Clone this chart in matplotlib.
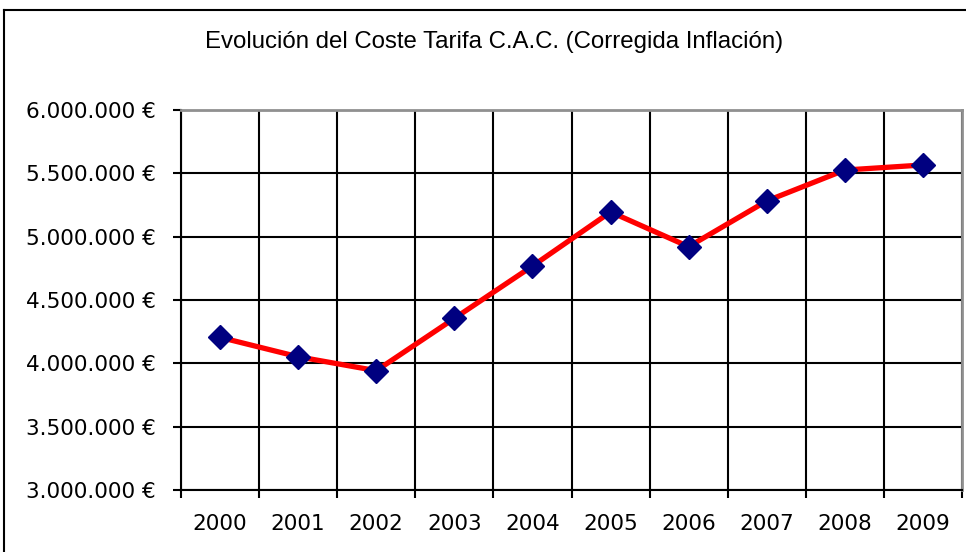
import matplotlib
matplotlib.use("Agg")
import matplotlib.pyplot as plt
from matplotlib.lines import Line2D
from matplotlib.ticker import FixedLocator, FuncFormatter

years = ["2000", "2001", "2002", "2003", "2004", "2005", "2006", "2007", "2008", "2009"]
costs = [4205000, 4052000, 3942000, 4355000, 4768000, 5195000, 4921000, 5282000, 5526000, 5566000]
y_ticks = [3000000, 3500000, 4000000, 4500000, 5000000, 5500000, 6000000]
title = "Evolución del Coste Tarifa C.A.C. (Corregida Inflación)"

W, H = 966, 552
fig = plt.figure(figsize=(W / 100, H / 100), dpi=100)
fig.patch.set_facecolor("white")

# outer chart frame (left and top edges visible)
fig.add_artist(Line2D([4 / W, 4 / W], [0, 1 - 10 / H], transform=fig.transFigure, color="black", lw=1.5))
fig.add_artist(Line2D([4 / W, 1], [1 - 10 / H, 1 - 10 / H], transform=fig.transFigure, color="black", lw=1.5))

left, right, top, bottom = 181, 962, 110, 490
ax = fig.add_axes([left / W, 1 - bottom / H, (right - left) / W, (bottom - top) / H])

x = list(range(len(years)))
ax.plot(x, costs, color="#FF0000", lw=3.8, zorder=3, solid_joinstyle="round")
ax.plot(x, costs, linestyle="none", marker="D", markersize=12.5, color="#000080",
        markeredgecolor="#000080", zorder=4)

ax.set_xlim(-0.5, len(years) - 0.5)
ax.set_ylim(3000000, 6000000)

ax.xaxis.set_major_locator(FixedLocator([i - 0.5 for i in range(len(years) + 1)]))
ax.xaxis.set_minor_locator(FixedLocator(x))
ax.xaxis.set_major_formatter(FuncFormatter(lambda v, p: ""))
ax.xaxis.set_minor_formatter(FuncFormatter(lambda v, p: years[int(round(v))] if 0 <= int(round(v)) < len(years) else ""))
ax.tick_params(axis="x", which="major", length=6, width=1.5, color="black", direction="out")
ax.tick_params(axis="x", which="minor", length=0, pad=17, labelsize=15.5, labelfontfamily="DejaVu Sans")

ax.yaxis.set_major_locator(FixedLocator(y_ticks))
ax.yaxis.set_major_formatter(FuncFormatter(lambda v, p: f"{int(v):,}".replace(",", ".") + " €"))
ax.tick_params(axis="y", length=6, width=1.5, color="black", direction="out", pad=12,
               labelsize=15.5, labelfontfamily="DejaVu Sans")

ax.grid(True, which="major", color="black", lw=1.5)
ax.set_axisbelow(True)
for side in ["top", "right"]:
    ax.spines[side].set_color("#909090")
    ax.spines[side].set_linewidth(2)
for side in ["left", "bottom"]:
    ax.spines[side].set_color("black")
    ax.spines[side].set_linewidth(1.5)

fig.text(494 / W, 1 - 42 / H, title, ha="center", va="center", fontsize=17.3,
         family="Liberation Sans")

fig.savefig("out.png", dpi=100)
